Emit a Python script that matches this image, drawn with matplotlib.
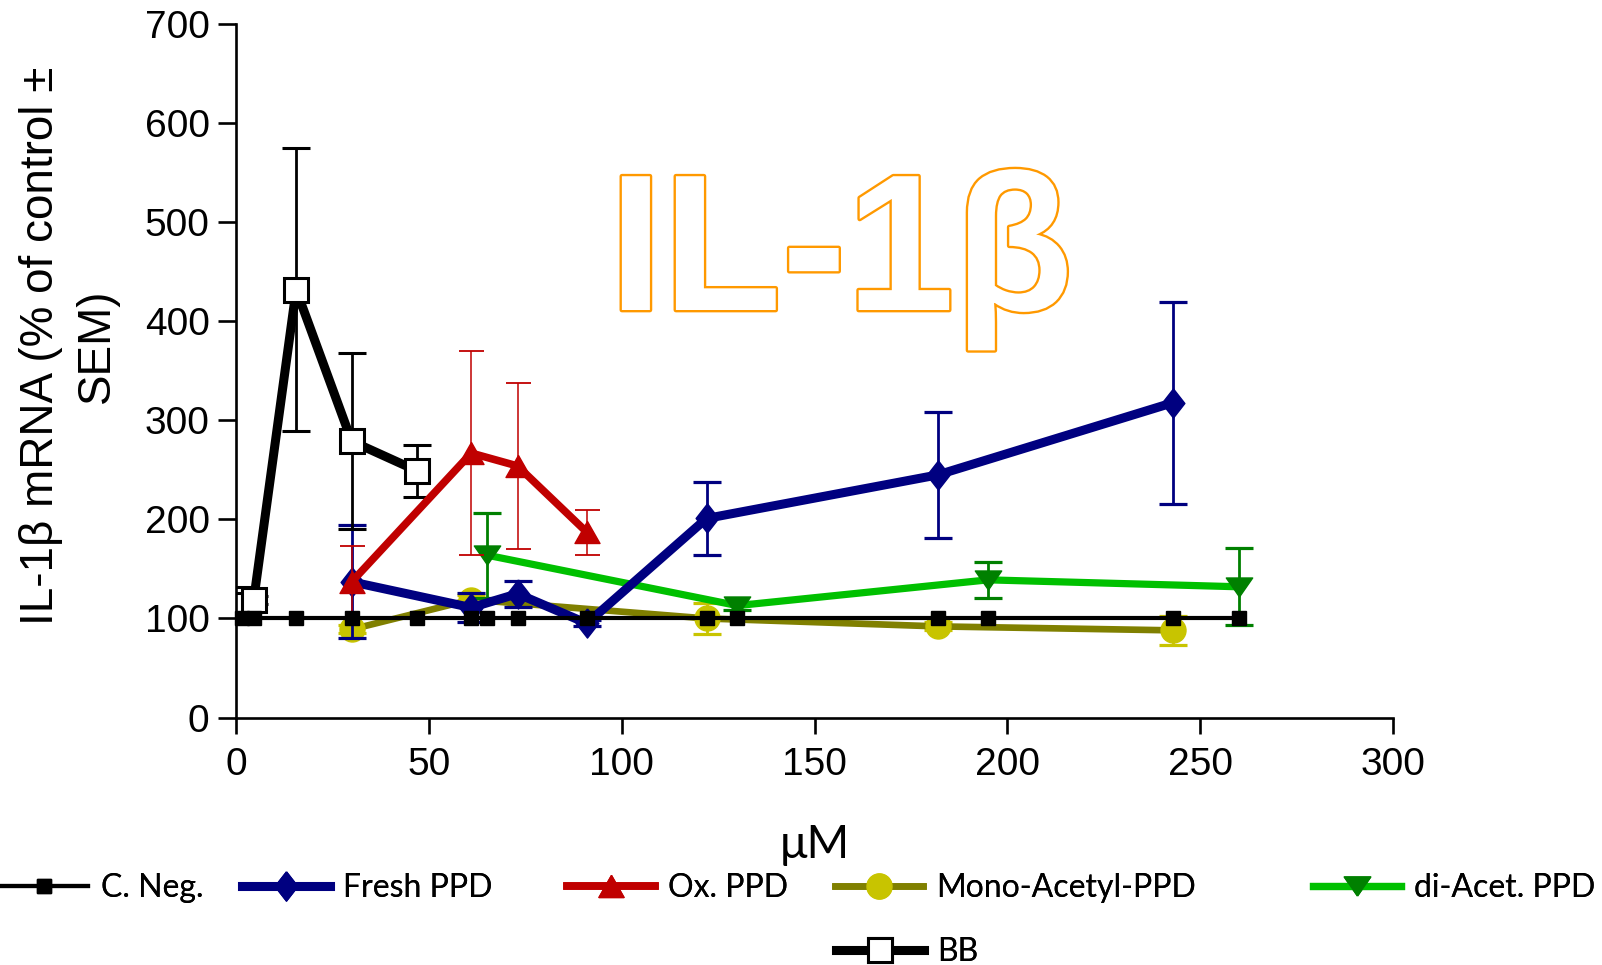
import matplotlib
matplotlib.use("Agg")
import matplotlib.pyplot as plt
from matplotlib import patheffects

# ---- data (concentration in µM, IL-1β mRNA as % of control, SEM) ----
cneg_x = [1.6, 4.6, 15.6, 30, 47, 61, 65, 73, 91, 122, 130, 182, 195, 243, 260]
cneg_y = [100] * len(cneg_x)

fresh_x = [30, 61, 73, 91, 122, 182, 243]
fresh_y = [137, 111, 125, 95, 201, 245, 318]
fresh_err = [57, 15, 13, 3, 37, 64, 102]

ox_x = [30, 61, 73, 91]
ox_y = [137, 267, 254, 187]
ox_err = [36, 103, 84, 23]

mono_x = [30, 61, 122, 182, 243]
mono_y = [89, 119, 100, 92, 88]
mono_err = [4, 5, 16, 4, 15]

diac_x = [65, 130, 195, 260]
diac_y = [164, 113, 139, 132]
diac_err = [43, 4, 18, 39]

bb_x = [1.6, 4.6, 15.6, 30, 47]
bb_y = [114, 119, 432, 279, 249]
bb_err = [18, 4, 143, 89, 26]

labels = ["C. Neg.", "Fresh PPD", "Ox. PPD", "Mono-Acetyl-PPD", "di-Acet. PPD", "BB"]
x_ticks = [0, 50, 100, 150, 200, 250, 300]
y_ticks = [0, 100, 200, 300, 400, 500, 600, 700]

# ---- fonts ----
arial = ["Liberation Sans", "DejaVu Sans"]
humanist = ["Lato", "DejaVu Sans"]

W, H = 1602, 965
fig = plt.figure(figsize=(W / 100, H / 100), dpi=100)

def fx(px):
    return px / W

def fy(py):
    return 1 - py / H

ax = fig.add_axes([fx(236), fy(717.5), fx(1393) - fx(236), fy(24.3) - fy(717.5)])

# custom marker shapes
diamond = [(0, 1), (0.78, 0), (0, -1), (-0.78, 0), (0, 1)]
tri_up = [(0, 0.88), (1, -0.88), (-1, -0.88), (0, 0.88)]
tri_dn = [(0, -0.72), (1, 0.72), (-1, 0.72), (0, -0.72)]

err_common = dict(capsize=10, elinewidth=2.0, capthick=2.3)

mono = ax.errorbar(mono_x, mono_y, yerr=mono_err, color="#808000", lw=4.8,
                   marker="o", ms=18, mfc="#c8c400", mec="#c8c400",
                   ecolor="#c8c400", zorder=2.1, **err_common)
diac = ax.errorbar(diac_x, diac_y, yerr=diac_err, color="#00c000", lw=5.2,
                   marker=tri_dn, ms=19, mfc="#008000", mec="#008000",
                   ecolor="#008000", zorder=2.2, **err_common)
fresh = ax.errorbar(fresh_x, fresh_y, yerr=fresh_err, color="#000080", lw=6.5,
                    marker=diamond, ms=21, mfc="#000080", mec="#000080",
                    ecolor="#000080", zorder=2.3, **err_common)
bb = ax.errorbar(bb_x, bb_y, yerr=bb_err, color="black", lw=6.5,
                 marker="s", ms=17, mfc="white", mec="black", mew=2.2,
                 ecolor="black", zorder=2.4, **err_common)
ox = ax.errorbar(ox_x, ox_y, yerr=ox_err, color="#c00000", lw=5.5,
                 marker=tri_up, ms=18, mfc="#c00000", mec="#c00000",
                 ecolor="#c00000", capsize=9, elinewidth=1.1, capthick=1.3,
                 zorder=2.5)
cneg, = ax.plot(cneg_x, cneg_y, color="black", lw=3.0, marker="s", ms=9.5,
                mfc="black", mec="black", zorder=2.6, clip_on=False)

ax.set_xlim(0, 300)
ax.set_ylim(0, 700)
ax.set_xticks(x_ticks)
ax.set_yticks(y_ticks)
for s in ("top", "right"):
    ax.spines[s].set_visible(False)
for s in ("left", "bottom"):
    ax.spines[s].set_linewidth(1.9)
ax.tick_params(axis="y", direction="out", length=13, width=1.9, pad=6,
               labelsize=28)
ax.tick_params(axis="x", direction="out", length=11.5, width=1.9, pad=10,
               labelsize=28)
for lab in ax.get_xticklabels() + ax.get_yticklabels():
    lab.set_fontfamily(arial)

# axis titles
fig.text(fx(69), fy(346), "IL-1β mRNA (% of control ±\nSEM)", rotation=90,
         ha="center", va="center", multialignment="center",
         fontsize=33, family=arial, linespacing=1.38)
fig.text(fx(815), fy(858), "μM", ha="center", va="baseline",
         fontsize=33, family=humanist)

# outlined panel title
fig.text(fx(841), fy(310), "IL-1β", ha="center", va="baseline",
         fontsize=140, color="white", family=arial, weight="bold",
         path_effects=[patheffects.Stroke(linewidth=3.4, foreground="#ff9900"),
                       patheffects.Normal()])

# legend: one entry per slot
handles = [cneg, fresh[0], ox[0], mono[0], diac[0], bb[0]]
slots = [(0, 888), (242, 888), (567, 888), (835, 888), (1313, 888), (836, 952)]
for h, lab, (px, py) in zip(handles, labels, slots):
    lg = fig.legend([h], [lab], loc="center left", bbox_to_anchor=(fx(px), fy(py)),
                    frameon=False, borderpad=0, borderaxespad=0,
                    handlelength=2.75, handletextpad=0.4, numpoints=1,
                    prop=dict(family=humanist, size=23))
    fig.add_artist(lg)

fig.savefig("out.png", dpi=100)
